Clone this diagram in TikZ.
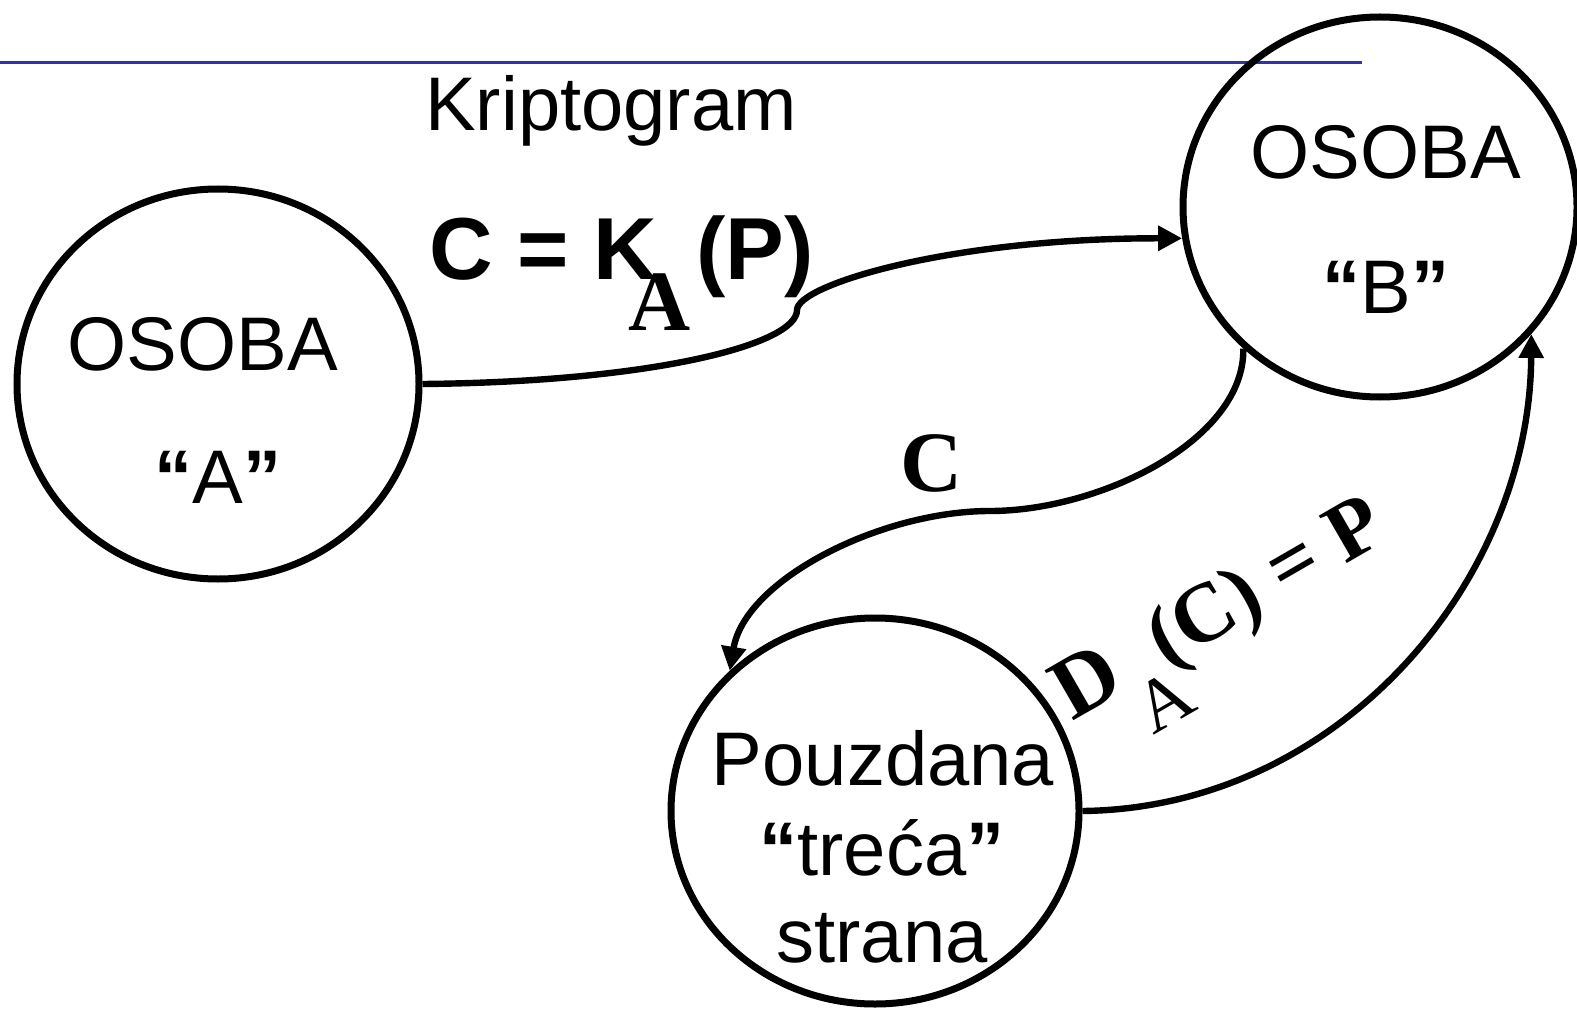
\documentclass[tikz,border=0pt]{standalone}
\usepackage{fontspec}
\setmainfont{Liberation Sans}
\newfontfamily\timesfont{Liberation Serif}
\usetikzlibrary{arrows.meta,shapes.geometric}
\definecolor{slideblue}{RGB}{51,51,153}
\newcommand{\navL}{{\bfseries “}}
\newcommand{\navR}{{\bfseries ”}}
\tikzset{
		>={Triangle[length=12pt,width=12pt]},
		osoba/.style={ellipse,draw,line width=3.5pt,inner sep=0pt},
		tekst/.style={font=\fontsize{38}{44}\selectfont,inner sep=0pt,anchor=base},
		oznaka/.style={font=\timesfont\bfseries\fontsize{43}{50}\selectfont,inner sep=0pt},
		veza/.style={->,line width=3.2pt}
	}

\begin{document}
\begin{tikzpicture}[x=0.5pt,y=-0.5pt]
          \useasboundingbox (0,0) rectangle (1577,1010);
          \draw[slideblue,line width=1.5pt] (0,63) -- (1362,63);

          % the three parties
          \node[osoba,minimum width=201pt,minimum height=195pt] (osobaA) at (218,384) {};
          \node[osoba,minimum width=197pt,minimum height=190pt] (osobaB) at (1380,207) {};
          \node[osoba,minimum width=204pt,minimum height=193pt] (trust) at (875,811) {};

          \node[tekst] (osobaAime) at (203,370) {OSOBA};
          \node[tekst] (osobaAoznaka) at (218,503) {\navL A\navR};
          \node[tekst] (osobaBime) at (1386,179) {OSOBA};
          \node[tekst] (osobaBoznaka) at (1386,314) {\navL B\navR};
          \node[tekst] (trustime) at (883,785) {Pouzdana};
          \node[tekst] (trustoznaka) at (882,875) {\navL treća\navR};
          \node[tekst] (trustkraj) at (882,962) {strana};

          \node[tekst] (kriptogram) at (611,131) {Kriptogram};

          % connectors
          \coordinate (prevoj1) at (797,310);
          \coordinate (prevoj2) at (990,511);
          \draw[veza] (osobaA.east) .. controls (650,382) and (797,345) .. (prevoj1)
                .. controls (797,285) and (950,238) .. (osobaB.189);
          \draw[veza] (osobaB.226) .. controls (1245,440) and (1100,511) .. (prevoj2)
                .. controls (880,511) and (745,580) .. (trust.136);
          \draw[veza] (trust.east) .. controls (1340,808) and (1530,580) .. (osobaB.-40);

          % labels on the connectors
          \node[font=\bfseries\fontsize{44}{50}\selectfont,inner sep=0pt,anchor=base west] (sifraCK) at (429,280) {C = K};
          \node[oznaka,anchor=base west] (sifraA) at (628,330) {A};
          \node[font=\bfseries\fontsize{44}{50}\selectfont,inner sep=0pt,anchor=base west] (sifraP) at (696,280) {(P)};
          \node[oznaka,anchor=base] (kanal) at (932,491) {C};
          \node[rotate=30,anchor=base west,inner sep=0pt] (desifra) at (1072,722)
                {{\timesfont\bfseries\fontsize{44}{50}\selectfont D}\raisebox{-26pt}{\timesfont\fontsize{37}{42}\selectfont A}\kern-4pt{\timesfont\bfseries\fontsize{42}{48}\selectfont (C) = P}};

\end{tikzpicture}
\end{document}
